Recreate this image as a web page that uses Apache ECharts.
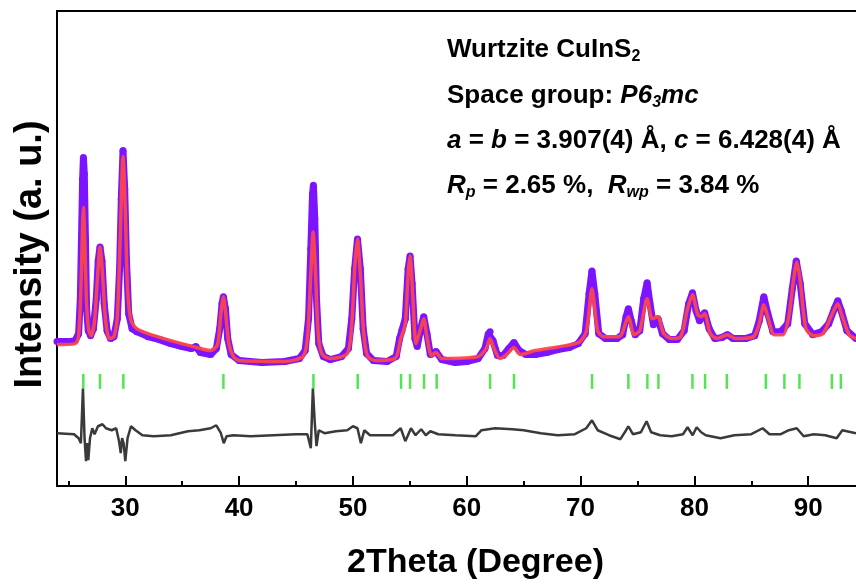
<!DOCTYPE html>
<html>
<head>
<meta charset="utf-8">
<script src="https://cdn.jsdelivr.net/npm/echarts@6/dist/echarts.min.js"></script>
<style>html,body{margin:0;padding:0;background:#fff}#c{width:856px;height:585px}</style>
</head>
<body>
<div id="c"></div>
<script>
// 2θ (degree) vs intensity (arbitrary units)
const observed = [[24.0,145],[25.0,145],[25.6,146],[25.9,153],[26.05,188],[26.15,248],[26.25,308],[26.32,330],[26.4,313],[26.5,248],[26.6,178],[26.75,156],[26.95,151],[27.2,158],[27.45,188],[27.62,226],[27.78,240],[27.95,226],[28.15,183],[28.4,156],[28.7,148],[29.0,150],[29.3,168],[29.5,218],[29.65,288],[29.8,337],[29.95,298],[30.1,228],[30.3,173],[30.6,158],[31.0,155],[32.0,150],[33.0,147],[34.0,143],[35.0,140],[35.8,138],[36.2,140],[36.6,134],[37.5,132],[38.0,138],[38.3,158],[38.5,183],[38.62,190],[38.8,178],[39.0,148],[39.3,132],[40.0,126],[42.0,124],[44.0,125],[45.3,128],[45.8,136],[46.1,168],[46.3,238],[46.45,293],[46.53,302],[46.65,268],[46.8,188],[47.0,143],[47.4,130],[48.0,127],[49.0,130],[49.6,138],[49.9,168],[50.15,218],[50.4,248],[50.65,218],[50.9,158],[51.2,133],[51.8,126],[53.0,125],[53.8,130],[54.1,148],[54.3,156],[54.6,168],[54.85,218],[55.02,231],[55.2,203],[55.45,148],[55.65,140],[55.95,158],[56.22,170],[56.5,153],[56.8,132],[57.3,135],[57.8,127],[59.0,124],[60.0,125],[61.0,128],[61.6,138],[61.9,153],[62.05,155],[62.3,146],[62.7,131],[63.2,131],[63.7,138],[64.15,144],[64.6,136],[65.2,132],[66.0,132],[67.0,134],[68.0,137],[69.0,139],[69.8,143],[70.4,153],[70.75,193],[71.0,216],[71.25,193],[71.6,153],[72.2,148],[73.2,148],[73.7,152],[74.0,170],[74.2,178],[74.45,166],[74.8,152],[75.2,156],[75.55,188],[75.85,204],[76.1,183],[76.4,162],[76.8,168],[77.2,153],[77.8,147],[78.5,147],[79.1,156],[79.5,183],[79.83,194],[80.15,176],[80.45,166],[80.9,174],[81.3,158],[81.8,148],[82.4,149],[82.9,152],[83.4,148],[84.5,148],[85.3,151],[85.7,166],[86.1,190],[86.45,173],[86.9,155],[87.6,155],[88.2,163],[88.6,198],[88.95,226],[89.3,203],[89.7,163],[90.4,152],[91.2,155],[91.8,163],[92.3,178],[92.6,186],[92.9,176],[93.4,156],[94.2,148]];

const calculated = [[24.0,142],[25.6,143],[25.9,151],[26.1,198],[26.25,263],[26.32,280],[26.42,253],[26.6,183],[26.8,156],[27.0,151],[27.3,166],[27.55,208],[27.78,240],[28.0,213],[28.25,168],[28.6,148],[29.0,150],[29.3,170],[29.55,248],[29.8,331],[30.0,278],[30.2,198],[30.5,166],[31.0,158],[32.0,153],[34.0,146],[36.0,140],[37.5,136],[38.1,142],[38.4,173],[38.62,190],[38.85,170],[39.1,143],[39.5,130],[40.0,126],[44.0,125],[45.6,130],[46.0,148],[46.3,213],[46.5,255],[46.7,218],[46.95,153],[47.3,132],[48.0,128],[49.5,133],[49.9,163],[50.15,218],[50.4,248],[50.65,213],[50.95,153],[51.3,130],[52.0,126],[53.7,128],[54.2,148],[54.6,163],[54.85,213],[55.02,231],[55.25,193],[55.55,143],[55.95,158],[56.22,168],[56.5,150],[56.9,131],[57.3,134],[57.8,128],[61.0,130],[61.7,138],[62.05,148],[62.4,138],[62.9,128],[63.5,132],[64.15,139],[64.7,132],[66.0,136],[69.8,144],[70.5,155],[71.0,198],[71.5,156],[72.0,150],[73.4,150],[74.2,170],[74.7,152],[75.2,156],[75.85,188],[76.3,168],[76.8,170],[77.3,153],[78.0,148],[78.8,150],[79.4,178],[79.83,192],[80.3,172],[80.6,170],[80.9,173],[81.4,153],[82.0,148],[82.9,152],[83.6,148],[85.2,150],[85.7,163],[86.1,182],[86.5,168],[87.0,152],[87.8,152],[88.3,170],[88.7,206],[89.0,225],[89.3,206],[89.8,158],[90.5,151],[91.3,153],[92.0,170],[92.6,183],[93.0,170],[93.6,152],[94.2,148]];

const difference = [[24.0,53],[25.5,52],[25.9,48],[26.1,43],[26.28,98],[26.42,48],[26.55,25],[26.65,43],[26.75,26],[26.9,48],[27.1,58],[27.3,52],[27.6,60],[28.0,62],[28.3,58],[28.8,56],[29.2,58],[29.45,45],[29.6,33],[29.72,48],[29.85,43],[30.0,25],[30.2,48],[30.5,60],[30.9,56],[31.5,51],[32.5,50],[34.0,51],[35.5,55],[36.5,56],[37.5,58],[38.0,61],[38.4,53],[38.65,43],[38.9,50],[39.5,51],[41.0,50],[43.0,51],[45.0,52],[46.0,52],[46.3,38],[46.48,98],[46.65,63],[46.8,40],[47.0,56],[47.5,53],[48.5,55],[49.5,56],[50.0,60],[50.4,58],[50.7,43],[51.0,56],[51.5,51],[53.5,51],[54.2,58],[54.6,45],[54.8,50],[55.1,58],[55.5,51],[56.0,57],[56.4,51],[56.8,55],[57.5,52],[59.0,51],[60.8,50],[61.3,56],[62.5,58],[64.0,57],[65.0,56],[66.5,53],[68.0,51],[69.5,52],[70.5,58],[71.0,66],[71.5,56],[72.5,51],[73.5,47],[74.0,56],[74.2,60],[74.6,52],[75.3,54],[75.8,65],[76.2,54],[77.0,51],[78.0,50],[79.0,52],[79.4,59],[79.85,51],[80.2,59],[80.6,54],[81.0,51],[82.3,48],[83.5,51],[85.0,52],[86.0,58],[86.6,52],[87.6,52],[88.3,56],[89.0,58],[89.6,50],[90.5,52],[91.5,51],[92.5,48],[93.0,56],[94.2,53]];

const braggPositions = [26.31,27.78,29.83,38.62,46.53,50.42,54.23,55.02,56.25,57.36,62.05,64.15,71.01,74.20,75.87,76.84,79.83,80.94,82.85,86.28,87.91,89.23,92.08,92.87];
const braggLevel = 105;

const majorTicks = [30,40,50,60,70,80,90];
const minorTicks = [25,35,45,55,65,75,85];

const FONT = 'Arial, "Liberation Sans", sans-serif';

const chart = echarts.init(document.getElementById('c'), null, {renderer: 'canvas'});

const base = {fontFamily: FONT, fontWeight: 'bold', fontSize: 26, lineHeight: 30, verticalAlign: 'middle', color: '#000'};
const rich = {
  n: Object.assign({}, base),
  i: Object.assign({}, base, {fontStyle: 'italic'}),
  s: Object.assign({}, base, {fontSize: 16, lineHeight: 16, verticalAlign: 'bottom'}),
  si: Object.assign({}, base, {fontSize: 16, lineHeight: 16, verticalAlign: 'bottom', fontStyle: 'italic'})
};
function txt(y, text) {
  return {type: 'text', left: 447, top: y - 15, z: 100,
    style: {text: text, rich: rich, fill: '#000', font: 'bold 26px ' + FONT}};
}

chart.setOption({
  animation: false,
  backgroundColor: '#fff',
  grid: {left: 57, top: 11, right: 0, height: 477},
  xAxis: [
    {type: 'value', min: 24, max: 94.2, position: 'bottom',
     axisLine: {show: true, onZero: false, lineStyle: {color: '#000', width: 2}},
     axisTick: {show: true, inside: true, length: 10, customValues: majorTicks, lineStyle: {color: '#000', width: 2}},
     axisLabel: {show: true, customValues: majorTicks, margin: 10, color: '#000', fontFamily: FONT, fontWeight: 'bold', fontSize: 26},
     splitLine: {show: false},
     name: '2Theta (Degree)', nameLocation: 'middle', nameGap: 60,
     nameTextStyle: {color: '#000', fontFamily: FONT, fontWeight: 'bold', fontSize: 34, padding: [0, 0, 0, 38]}},
    {type: 'value', min: 24, max: 94.2, position: 'bottom',
     axisLine: {show: false},
     axisTick: {show: true, inside: true, length: 5, customValues: minorTicks, lineStyle: {color: '#000', width: 2}},
     axisLabel: {show: false}, splitLine: {show: false}},
    {type: 'value', min: 24, max: 94.2, position: 'top',
     axisLine: {show: true, onZero: false, lineStyle: {color: '#000', width: 2}},
     axisTick: {show: false}, axisLabel: {show: false}, splitLine: {show: false}}
  ],
  yAxis: [{type: 'value', min: 0, max: 477,
    axisLine: {show: true, onZero: false, lineStyle: {color: '#000', width: 2}},
    axisTick: {show: false}, axisLabel: {show: false}, splitLine: {show: false},
    name: 'Intensity (a. u.)', nameLocation: 'middle', nameGap: 7, nameRotate: 90,
    nameTextStyle: {color: '#000', fontFamily: FONT, fontWeight: 'bold', fontSize: 38, padding: [0, 12, 0, 0]}}],
  series: [
    {name: 'Observed', type: 'line', data: observed, xAxisIndex: 0,
     symbol: 'circle', symbolSize: 7, showSymbol: true, showAllSymbol: true,
     itemStyle: {color: '#7d14ff'}, lineStyle: {color: '#7d14ff', width: 7}, z: 2},
    {name: 'Calculated', type: 'line', data: calculated, xAxisIndex: 0,
     showSymbol: false, smooth: 0.25, lineStyle: {color: '#ff4646', width: 3.5, opacity: 0.92}, z: 3},
    {name: 'Bragg', type: 'scatter', xAxisIndex: 0,
     data: braggPositions.map(function (p) { return [p, braggLevel]; }),
     symbol: 'rect', symbolSize: [2.5, 15], itemStyle: {color: '#2bdc2b'}, z: 4},
    {name: 'Difference', type: 'line', data: difference, xAxisIndex: 0,
     showSymbol: false, lineStyle: {color: '#3a3a3a', width: 2.5}, z: 4}
  ],
  graphic: [
    txt(52, '{n|Wurtzite CuInS}{s|2}'),
    txt(98, '{n|Space group: }{i|P6}{si|3}{i|mc}'),
    txt(143, '{i|a}{n| = }{i|b}{n| = 3.907(4) Å, }{i|c}{n| = 6.428(4) Å}'),
    txt(188, '{i|R}{si|p}{n| = 2.65 %,  }{i|R}{si|wp}{n| = 3.84 %}')
  ]
});
</script>
</body>
</html>
